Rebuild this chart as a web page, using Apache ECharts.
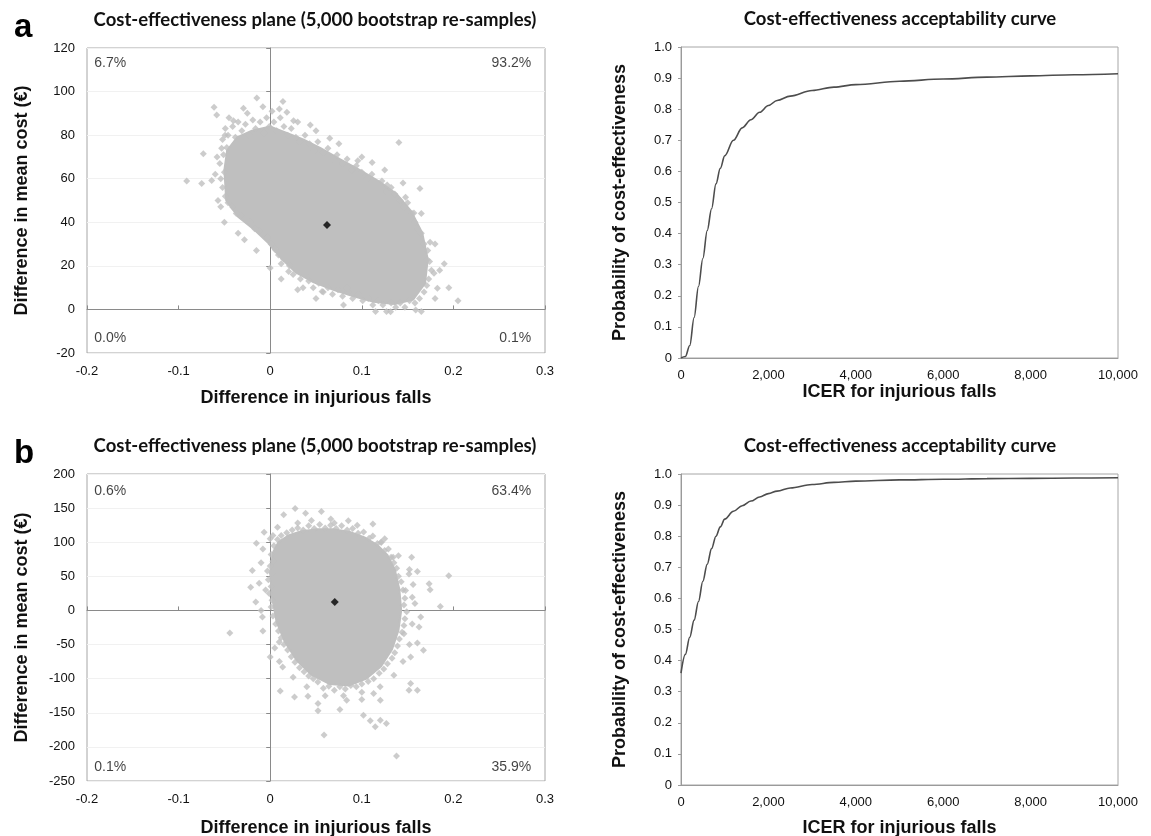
<!DOCTYPE html>
<html>
<head>
<meta charset="utf-8">
<title>Cost-effectiveness plane and acceptability curve</title>
<script src="https://cdn.jsdelivr.net/npm/echarts@6.0.0/dist/echarts.min.js"></script>
<style>
  html, body { margin: 0; padding: 0; background: #fff; }
  #chart { width: 1151px; height: 836px; }
</style>
</head>
<body>
<div id="chart"></div>
<script>
// ---- data ----
// panel a: dense core of the bootstrap cloud (outline), edge points, stray points
const coreA = [
  [-0.050, 64], [-0.047, 73], [-0.036, 79], [-0.02, 82], [0.0, 84], [0.018, 81],
  [0.036, 78], [0.055, 74], [0.076, 69], [0.098, 64], [0.12, 58.5], [0.138, 53],
  [0.154, 45], [0.166, 35], [0.172, 23], [0.169, 12], [0.156, 4.5], [0.136, 2.5],
  [0.113, 3.5], [0.091, 6], [0.069, 9], [0.047, 12.5], [0.028, 17], [0.012, 23.5],
  [-0.002, 30.5], [-0.017, 36.5], [-0.035, 42.5], [-0.048, 50]
]
const edgeA = [
  [-0.052, 78], [-0.049, 83], [-0.046, 80], [-0.041, 84], [-0.038, 79], [-0.035, 86],
  [-0.031, 82], [-0.027, 85], [-0.023, 80], [-0.019, 87], [-0.016, 83], [-0.011, 86],
  [-0.007, 81], [-0.004, 88], [-0.001, 84], [0.002, 91], [0.004, 86], [0.007, 82],
  [0.011, 88], [0.015, 84], [0.019, 80], [0.023, 83], [0.028, 79], [0.032, 77],
  [0.038, 80], [0.043, 76], [0.048, 73], [0.052, 77], [0.058, 72], [0.063, 74],
  [0.068, 69], [0.073, 71], [0.079, 67], [0.084, 69], [0.089, 64], [0.094, 66],
  [0.1, 63], [0.106, 60], [0.111, 62], [0.116, 58], [0.122, 59], [0.127, 54],
  [0.132, 56], [0.136, 53], [0.142, 50], [0.146, 47], [0.15, 49], [0.155, 44],
  [0.158, 40], [0.161, 37], [0.165, 35], [0.168, 30], [0.172, 27], [0.174, 22],
  [0.176, 18], [0.173, 14], [0.171, 11], [0.168, 8], [0.163, 5], [0.158, 3],
  [0.152, 4], [0.147, 1], [0.142, 3], [0.137, 1], [0.132, 3], [0.127, -1],
  [0.123, 2], [0.118, 4], [0.112, 2], [0.107, 5], [0.101, 4], [0.096, 7],
  [0.09, 5], [0.085, 8], [0.079, 6], [0.074, 9], [0.068, 7], [0.063, 10],
  [0.058, 8], [0.053, 12], [0.047, 10], [0.042, 13], [0.038, 16], [0.033, 14],
  [0.029, 18], [0.025, 16], [0.021, 20], [0.017, 23], [0.012, 21], [0.009, 25],
  [0.005, 28], [0.001, 30], [-0.003, 33], [-0.007, 35], [-0.012, 36], [-0.017, 37],
  [-0.022, 40], [-0.027, 41], [-0.032, 43], [-0.037, 44], [-0.041, 47], [-0.046, 49],
  [-0.049, 52], [-0.052, 56], [-0.054, 60], [-0.05, 63], [-0.055, 67], [-0.051, 71],
  [-0.053, 74],
  [-0.058, 70], [-0.06, 62], [-0.057, 50], [-0.045, 88], [-0.025, 90], [-0.008, 93],
  [0.01, 92], [0.03, 86], [0.05, 82], [0.075, 76], [0.1, 70], [0.125, 64],
  [0.145, 58], [0.165, 44], [0.18, 30], [0.185, 18], [0.18, 5], [0.165, -1],
  [0.115, -1], [0.08, 2], [0.05, 5], [0.03, 9], [0.012, 14], [0.0, 19],
  [-0.015, 27], [-0.035, 35], [-0.05, 40]
]
const strayA = [
  [-0.0613, 92.8], [-0.0584, 89.2], [-0.0146, 97.1], [0.0139, 95.4], [-0.0292, 92.3],
  [-0.0912, 58.9], [-0.0748, 57.8], [-0.0639, 59.2], [-0.073, 71.5], [-0.054, 47.1],
  [-0.0281, 32.0], [0.1405, 76.6], [0.1635, 55.5], [0.1745, 30.8], [0.0358, 10.0],
  [0.0566, 8.2], [0.0839, 9.7], [0.1314, -1.1], [0.1588, -0.3], [0.1825, 9.7],
  [0.1788, 16.6], [0.065, 78.6], [0.0438, 84.6], [0.0182, 90.5], [0.0255, 86.6],
  [-0.0401, 86.6], [-0.0493, 80.0], [-0.0474, 74.3], [0.1113, 67.4], [0.0956, 68.2],
  [0.1277, 57.1], [0.1478, 51.5], [0.1569, 44.3], [0.1715, 22.8], [0.0055, 27.4],
  [0.0201, 17.4], [0.0146, 23.1], [0.205, 4], [0.195, 10], [0.19, 21]
]
const meanA = [0.062, 38.8]
const quadA = ['6.7%', '93.2%', '0.0%', '0.1%']

// panel b
const coreB = [
  [0.003, 85], [0.009, 100], [0.02, 110], [0.034, 116], [0.052, 119], [0.069, 119],
  [0.087, 115], [0.103, 107], [0.117, 96], [0.128, 81], [0.136, 60], [0.141, 31],
  [0.143, 0], [0.14, -29], [0.133, -57], [0.121, -82], [0.105, -100], [0.086, -110],
  [0.065, -108], [0.045, -94], [0.029, -73], [0.016, -46], [0.007, -17], [0.002, 20],
  [0.0, 55]
]
const edgeB = [
  [0.004, 95], [0.008, 104], [0.012, 110], [0.018, 114], [0.024, 118], [0.03, 121],
  [0.036, 118], [0.042, 124], [0.048, 120], [0.054, 126], [0.06, 121], [0.066, 125],
  [0.072, 120], [0.078, 124], [0.084, 118], [0.09, 120], [0.096, 113], [0.102, 115],
  [0.108, 106], [0.112, 109], [0.117, 98], [0.121, 100], [0.125, 88], [0.129, 90],
  [0.132, 78], [0.135, 70], [0.138, 62], [0.14, 50], [0.143, 42], [0.145, 30],
  [0.147, 18], [0.146, 8], [0.149, -2], [0.147, -12], [0.146, -22], [0.144, -32],
  [0.141, -42], [0.139, -52], [0.136, -62], [0.133, -70], [0.128, -78], [0.124, -86],
  [0.119, -92], [0.113, -100], [0.107, -104], [0.1, -108], [0.094, -112], [0.088, -110],
  [0.082, -115], [0.076, -112], [0.07, -117], [0.064, -111], [0.058, -114], [0.052, -105],
  [0.047, -100], [0.042, -96], [0.037, -90], [0.032, -84], [0.027, -76], [0.023, -68],
  [0.019, -58], [0.015, -50], [0.012, -40], [0.009, -30], [0.006, -20], [0.003, -8],
  [0.001, 5], [0.002, 15], [-0.001, 25], [0.001, 35], [-0.002, 45], [0.002, 55],
  [0.0, 65], [0.003, 72], [0.001, 82], [-0.003, 58], [-0.005, 30],
  [0.03, 128], [0.045, 132], [0.07, 128], [0.095, 125], [0.125, 105], [0.14, 80],
  [0.152, 60], [0.156, 38], [0.158, 10], [0.155, -20], [0.152, -50], [0.145, -75],
  [0.135, -95], [0.12, -112], [0.1, -120], [0.08, -125], [0.06, -125], [0.04, -112],
  [0.025, -98], [0.01, -75], [0.005, -55], [-0.008, -30], [-0.01, 0], [-0.012, 40],
  [-0.01, 70], [-0.008, 90], [0.0, 105]
]
const strayB = [
  [0.0272, 149.6], [0.0147, 140.4], [0.0386, 142.3], [0.0559, 145.2], [0.0662, 134.0],
  [0.0853, 131.6], [0.1121, 126.7], [0.1213, 99.9], [0.1342, 78.0], [0.1544, 78.0],
  [0.1607, 57.0], [0.1515, 53.6], [0.1735, 39.0], [0.1746, 30.2], [0.1857, 5.8],
  [0.1949, 50.7], [-0.0066, 114.5], [-0.0151, 98.4], [-0.0195, 58.5], [-0.0213, 34.1],
  [-0.0158, 12.2], [-0.0085, -9.7], [-0.0441, -33.1], [0.0, -68.2], [0.0099, -46.3],
  [0.0136, -82.8], [0.011, -117.9], [0.0265, -126.7], [0.0412, -125.7], [0.0522, -136.5],
  [0.0522, -147.2], [0.0761, -145.2], [0.0835, -131.6], [0.1, -130.6], [0.1018, -153.5],
  [0.1092, -161.8], [0.1147, -170.6], [0.1202, -160.8], [0.1268, -165.7], [0.0588, -182.7],
  [0.1379, -213.5], [0.1515, -117.0], [0.1607, -117.0], [0.1533, -107.2], [0.1607, -47.8],
  [0.1673, -58.5], [0.1625, -24.4], [0.1643, -9.7], [0.1478, 29.2], [0.1551, 19.5],
  [0.146, -34.1], [0.1533, -68.2], [0.1202, -131.6], [0.1129, -121.8], [0.008, 122],
  [0.003, 110]
]
const meanB = [0.0705, 12.5]
const quadB = ['0.6%', '63.4%', '0.1%', '35.9%']

// acceptability curves
const icer = [0, 100, 200, 300, 400, 500, 600, 700, 800, 900, 1000, 1200, 1400, 1600,
  1800, 2000, 2200, 2500, 3000, 3500, 4000, 5000, 6000, 7000, 8000, 9000, 10000]
const probA = [0, 0.005, 0.04, 0.13, 0.23, 0.32, 0.41, 0.48, 0.56, 0.61, 0.65, 0.70, 0.74,
  0.766, 0.79, 0.812, 0.828, 0.842, 0.86, 0.871, 0.879, 0.89, 0.897, 0.903, 0.907, 0.911, 0.914]
const probB = [0.36, 0.42, 0.475, 0.53, 0.59, 0.655, 0.71, 0.76, 0.80, 0.83, 0.855, 0.88, 0.898,
  0.913, 0.926, 0.937, 0.945, 0.955, 0.966, 0.973, 0.977, 0.981, 0.983, 0.985, 0.986, 0.987, 0.988]

const planeTitle = 'Cost-effectiveness plane (5,000 bootstrap re-samples)'
const ceacTitle = 'Cost-effectiveness acceptability curve'

// ---- chart ----
const chart = echarts.init(document.getElementById('chart'))

const SANS = 'Liberation Sans, Arial, sans-serif'
const tickText = { color: '#111', fontSize: 13, fontFamily: SANS }
const nameText = { color: '#111', fontSize: 18, fontWeight: 'bold', fontFamily: SANS }
const cloudGrey = '#bfbfbf'

const fmtTenth = v => String(Math.round(v * 10) / 10)

const xAxis = []
const yAxis = []

function planeAxes(grid, yMin, yMax, yStep, xGap, yGap) {
  // labelled axes along the frame
  xAxis.push({
    gridIndex: grid, type: 'value', min: -0.2, max: 0.3, interval: 0.1, position: 'bottom',
    axisLine: { show: false, onZero: false }, axisTick: { show: false },
    axisLabel: { ...tickText, margin: 12, formatter: fmtTenth },
    splitLine: { show: false },
    name: 'Difference in injurious falls', nameLocation: 'middle', nameGap: xGap, nameTextStyle: nameText
  })
  yAxis.push({
    gridIndex: grid, type: 'value', min: yMin, max: yMax, interval: yStep, position: 'left',
    axisLine: { show: false, onZero: false }, axisTick: { show: false },
    axisLabel: { ...tickText, margin: 12 },
    splitLine: { show: true, lineStyle: { color: '#f1f1f1', width: 1 } },
    name: 'Difference in mean cost (€)', nameLocation: 'middle', nameGap: yGap, nameTextStyle: nameText
  })
  // crossing lines through the origin
  xAxis.push({
    gridIndex: grid, type: 'value', min: -0.2, max: 0.3, interval: 0.1,
    axisLine: { show: true, onZero: true, lineStyle: { color: '#8a8a8a', width: 1 } },
    axisTick: { show: true, length: 4, lineStyle: { color: '#8a8a8a' } },
    axisLabel: { show: false }, splitLine: { show: false }
  })
  yAxis.push({
    gridIndex: grid, type: 'value', min: yMin, max: yMax, interval: yStep,
    axisLine: { show: true, onZero: true, lineStyle: { color: '#8a8a8a', width: 1 } },
    axisTick: { show: true, length: 4, inside: true, lineStyle: { color: '#8a8a8a' } },
    axisLabel: { show: false }, splitLine: { show: false }
  })
}

function ceacAxes(grid, xGap, yGap) {
  xAxis.push({
    gridIndex: grid, type: 'value', min: 0, max: 10000, interval: 2000,
    axisLine: { show: true, lineStyle: { color: '#9a9a9a' } }, axisTick: { show: false },
    axisLabel: { ...tickText, margin: 11, formatter: v => v.toLocaleString('en-US') },
    splitLine: { show: false },
    name: 'ICER for injurious falls', nameLocation: 'middle', nameGap: xGap, nameTextStyle: nameText
  })
  yAxis.push({
    gridIndex: grid, type: 'value', min: 0, max: 1, interval: 0.1,
    axisLine: { show: true, lineStyle: { color: '#9a9a9a' } },
    axisTick: { show: true, length: 3, lineStyle: { color: '#9a9a9a' } },
    axisLabel: { ...tickText, margin: 9, formatter: v => (v === 0 ? '0' : v.toFixed(1)) },
    splitLine: { show: false },
    name: 'Probability of cost-effectiveness', nameLocation: 'middle', nameGap: yGap, nameTextStyle: nameText
  })
}

planeAxes(0, -20, 120, 20, 36, 56)   // x/y index 0,1
ceacAxes(1, 23, 52)                  // index 2
planeAxes(2, -250, 200, 50, 38, 56)  // index 3,4
ceacAxes(3, 34, 52)                  // index 5

const frame = { show: true, borderColor: '#a6a6a6', borderWidth: 1, backgroundColor: 'transparent', outerBoundsMode: 'none' }

const polygonItem = core => (params, api) => {
  if (params.dataIndex !== 0) return
  return {
    type: 'polygon',
    shape: { points: core.map(p => api.coord(p)) },
    style: { fill: cloudGrey, stroke: cloudGrey, lineWidth: 2 }
  }
}

function planeSeries(axis, core, edge, stray, mean, quad, yTop, yBottom) {
  const dot = {
    type: 'scatter', xAxisIndex: axis, yAxisIndex: axis, symbol: 'diamond', symbolSize: 7,
    itemStyle: { color: cloudGrey }, silent: true, z: 3
  }
  return [
    { type: 'custom', xAxisIndex: axis, yAxisIndex: axis, data: core, renderItem: polygonItem(core), silent: true, z: 2 },
    { ...dot, data: edge },
    { ...dot, data: stray },
    {
      type: 'scatter', xAxisIndex: axis, yAxisIndex: axis, symbol: 'diamond', symbolSize: 8,
      itemStyle: { color: '#000' }, data: [mean], silent: true, z: 5
    },
    {
      type: 'scatter', xAxisIndex: axis, yAxisIndex: axis, symbolSize: 0, silent: true, z: 6,
      label: { show: true, formatter: p => p.name, color: '#111', fontSize: 14, fontFamily: SANS, distance: 0 },
      data: [
        { name: quad[0], value: [-0.192, yTop], label: { position: 'right' } },
        { name: quad[1], value: [0.285, yTop], label: { position: 'left' } },
        { name: quad[2], value: [-0.192, yBottom], label: { position: 'right' } },
        { name: quad[3], value: [0.285, yBottom], label: { position: 'left' } }
      ]
    }
  ]
}

function ceacSeries(axis, prob) {
  return {
    type: 'line', xAxisIndex: axis, yAxisIndex: axis, showSymbol: false, smooth: 0.35,
    smoothMonotone: 'x', silent: true,
    lineStyle: { color: '#4d4d4d', width: 1.6 },
    data: icer.map((x, i) => [x, prob[i]])
  }
}

const titleFont = { fontFamily: 'Lato, Open Sans, sans-serif', fontWeight: 'bold', fontSize: 18.5, color: '#111' }
const letterFont = { fontFamily: SANS, fontWeight: 'bold', fontSize: 33, color: '#000' }

chart.setOption({
  animation: false,
  backgroundColor: '#fff',
  title: [
    { text: 'a', left: 14, top: 11, padding: 0, textStyle: letterFont },
    { text: planeTitle, left: 315, top: 11, textAlign: 'center', padding: 0, textStyle: titleFont },
    { text: ceacTitle, left: 900, top: 10, textAlign: 'center', padding: 0, textStyle: titleFont },
    { text: 'b', left: 14, top: 437, padding: 0, textStyle: letterFont },
    { text: planeTitle, left: 315, top: 437, textAlign: 'center', padding: 0, textStyle: titleFont },
    { text: ceacTitle, left: 900, top: 437, textAlign: 'center', padding: 0, textStyle: titleFont }
  ],
  grid: [
    { left: 87, top: 48, width: 458, height: 305, ...frame },
    { left: 681, top: 47, width: 437, height: 311, ...frame },
    { left: 87, top: 474, width: 458, height: 307, ...frame },
    { left: 681, top: 474, width: 437, height: 311, ...frame }
  ],
  xAxis,
  yAxis,
  series: [
    ...planeSeries(0, coreA, edgeA, strayA, meanA, quadA, 113, -13.3),
    ceacSeries(2, probA),
    ...planeSeries(3, coreB, edgeB, strayB, meanB, quadB, 175, -229.5),
    ceacSeries(5, probB)
  ]
})
</script>
</body>
</html>
